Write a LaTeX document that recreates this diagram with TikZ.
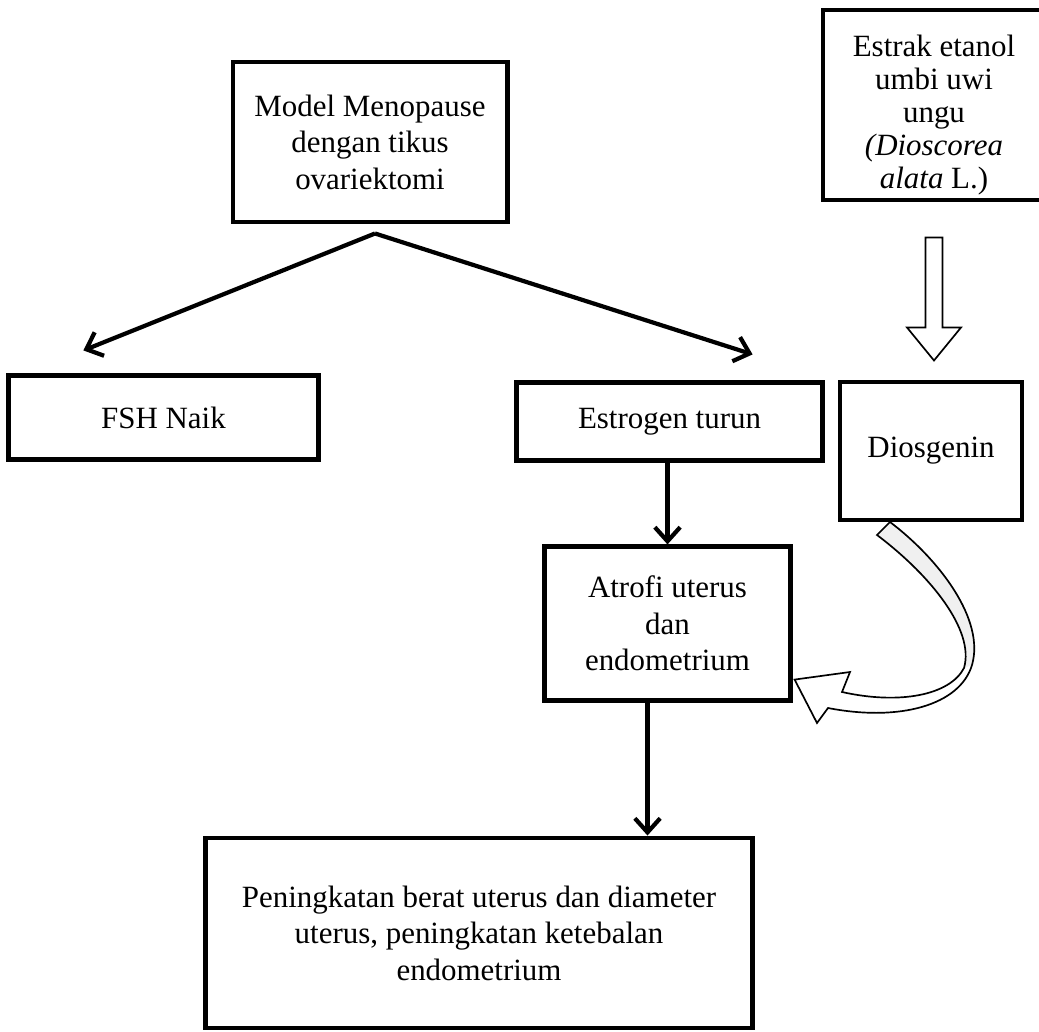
\documentclass[tikz,border=0pt]{standalone}
\usepackage{fontspec}
\setmainfont{Liberation Serif}
\usetikzlibrary{positioning,calc,arrows.meta}

\begin{document}
\begin{tikzpicture}[
  x=0.025cm,y=-0.025cm,
  every node/.style={align=center,font=\fontsize{22}{26}\selectfont},
  box/.style={draw,line width=3.5pt,inner sep=0pt},
  to/.style={-{Straight Barb[length=10pt,width=18pt,line width=3pt]},line width=3pt},
  hollow/.style={draw,line width=1.2pt,fill=white,line join=miter}]

  \useasboundingbox (0,0) rectangle (1039,1032);

  % boxes
  \node[box,minimum width=6.85cm,minimum height=4cm] (model) at (370,142)
      {Model Menopause\\dengan tikus\\ovariektomi};
  \node[box,minimum width=5.55cm,minimum height=4.75cm] (estrak) at (934,105) {};
  \node[font=\fontsize{22}{23.5}\selectfont] (estraktext) at ($(estrak.center)+(0,10)$)
      {Estrak etanol\\umbi uwi\\ungu\\\textit{(Dioscorea}\\\textit{alata} L.)};
  \node[box,minimum width=7.73cm,minimum height=2.08cm] (fsh) at (163.5,417.5) {FSH Naik};
  \node[box,minimum width=7.63cm,minimum height=1.93cm] (estrogen) at (669.5,421.5) {Estrogen turun};
  \node[box,minimum width=4.55cm,minimum height=3.45cm] (dios) at (931,451) {Diosgenin};
  \node[box,minimum width=6.13cm,minimum height=3.83cm] (atrofi) at (667.5,623.5)
      {Atrofi uterus\\dan\\endometrium};
  \node[box,minimum width=13.65cm,minimum height=4.75cm] (hasil) at (479,933)
      {Peningkatan berat uterus dan diameter\\uterus, peningkatan ketebalan\\endometrium};

  % fork below the model box
  \coordinate (fork) at ($(model.south)+(5,9)$);
  \coordinate (fshin) at ($(fsh.north west)+(77,-23)$);
  \coordinate (estin) at ($(estrogen.north east)+(-72,-26)$);
  \draw[to] (fork) -- (fshin);
  \draw[to] (fork) -- (estin);

  \draw[to] (estrogen.south -| atrofi.north) -- (atrofi.north);
  \coordinate (atrofiout) at ($(atrofi.south)+(-20,0)$);
  \draw[to] (atrofiout) -- (atrofiout |- hasil.north);

  % hollow arrow estrak -> diosgenin
  \draw[hollow] ($(estrak.south)+(-8.5,35)$) -- ++(17,0) -- ++(0,90) -- ++(18.5,0)
      -- ++(-27,33) -- ++(-27,-33) -- ++(18.5,0) -- cycle;

  % curved hollow arrow diosgenin -> atrofi (twisted ribbon)
  \coordinate (curvetip) at ($(atrofi.south east)+(2,-23)$);
  \fill[white] (890,522) .. controls (940,560) and (985,620) .. (972,665)
      .. controls (960,705) and (900,722) .. (828,708)
      -- (817,723) -- (curvetip) -- (850,672) -- (842,692)
      .. controls (900,705) and (950,695) .. (964,668)
      .. controls (975,630) and (930,575) .. (877,535) -- cycle;
  \fill[gray!12] (890,522) .. controls (940,560) and (985,620) .. (972,665)
      -- (964,668) .. controls (975,630) and (930,575) .. (877,535) -- cycle;
  \draw[line width=1.2pt,line join=miter] (890,522) .. controls (940,560) and (985,620) .. (972,665)
      .. controls (960,705) and (900,722) .. (828,708)
      -- (817,723) -- (curvetip) -- (850,672) -- (842,692)
      .. controls (900,705) and (950,695) .. (964,668)
      .. controls (975,630) and (930,575) .. (877,535) -- cycle;
\end{tikzpicture}
\end{document}
